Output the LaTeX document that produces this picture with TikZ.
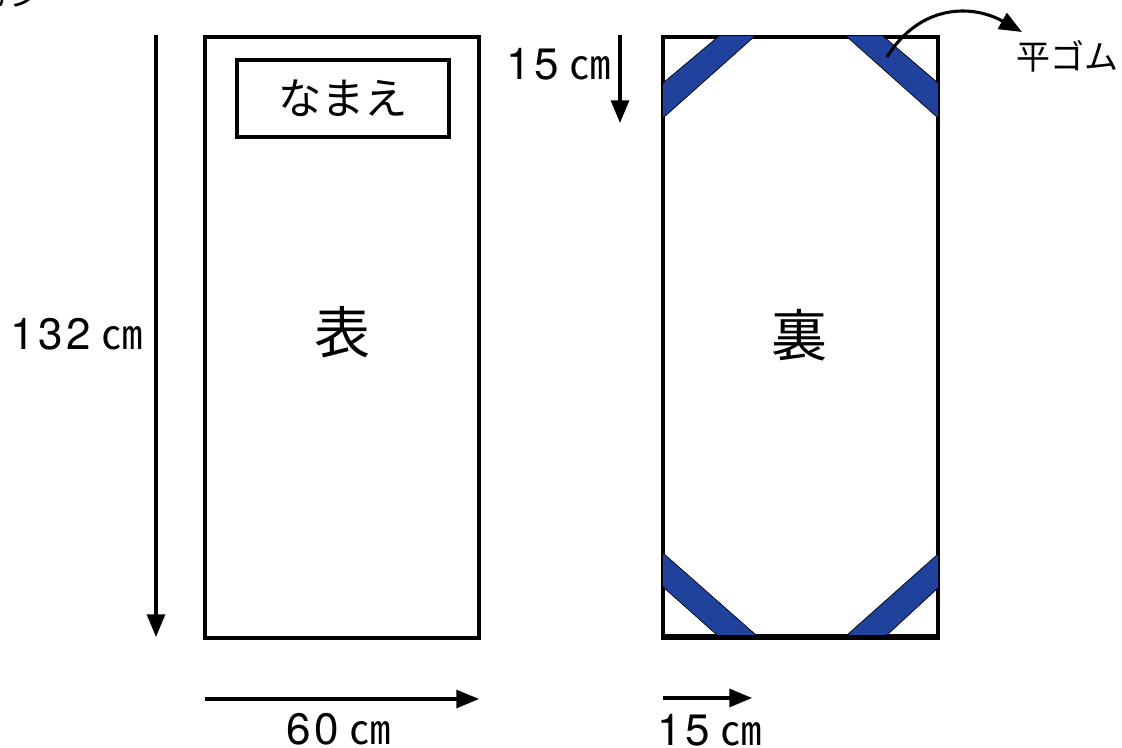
\documentclass[tikz,border=0pt]{standalone}
\usepackage{fontspec}
\usepackage{xcolor}
\usetikzlibrary{arrows.meta}
\setmainfont{Noto Sans CJK JP}
\newfontfamily\numfont[LetterSpace=8]{TeX Gyre Heros}
\definecolor{gumblue}{RGB}{32,66,156}
\newcommand\lbl[1]{\fontsize{#1}{#1}\selectfont}
\newcommand\cmlen[1]{\lbl{33pt}{\numfont #1}\kern8pt\lbl{31pt}㎝}
\tikzstyle{sheet}=[draw,line width=2.3pt]
\tikzstyle{gum}=[fill=gumblue]
\tikzstyle{gumedge}=[line width=.5pt]
\tikzstyle{dimhead}=[>/.tip={Triangle[length=17pt,width=13.5pt]}]
\tikzstyle{dim}=[line width=2.3pt,dimhead,->]
\tikzstyle{jplabel}=[inner sep=0pt,anchor=center]
\tikzstyle{dimlabel}=[inner sep=0pt,anchor=base,text height=23pt,text depth=0pt]
\begin{document}
\begin{tikzpicture}[x=.75pt,y=-.75pt]
	\useasboundingbox (0,0) rectangle (1122,748);
	% sheets
	\node[sheet,minimum width=205.5pt,minimum height=450.75pt,inner sep=0pt] (front) at (342,337.5) {};
	\node[sheet,minimum width=159pt,minimum height=57.75pt,inner sep=0pt] (namebox) at (343,98.5) {\lbl{32.5pt}なまえ};
	\node[sheet,minimum width=206.25pt,minimum height=449.25pt,inner sep=0pt] (back) at (800.5,336.5) {};
	\draw[line width=3.2pt] (back.south west) -- (back.south east);
	% rubber bands
	\fill[gum] (719,36) -- (755,36) -- (663,118) -- (663,83) -- cycle;
	\fill[gum] (846,36) -- (883,36) -- (938,83) -- (938,118) -- cycle;
	\fill[gum] (663,553) -- (756,635) -- (717,635) -- (663,587) -- cycle;
	\fill[gum] (938,554) -- (847,635) -- (887,635) -- (938,588) -- cycle;
	\draw[gumedge] (719,36) -- (663,83) (755,36) -- (663,118);
	\draw[gumedge] (846,36) -- (938,118) (883,36) -- (938,83);
	\draw[gumedge] (663,553) -- (756,635) (663,587) -- (717,635);
	\draw[gumedge] (938,554) -- (847,635) (938,588) -- (887,635);
	% labels
	\node[jplabel] (omote) at (342,332) {\lbl{42pt}表};
	\node[jplabel] (ura) at (799,335) {\lbl{42pt}裏};
	\node[jplabel] (gumlabel) at (1067,56) {\lbl{25.5pt}平ゴム};
	\node[dimlabel] (tall) at (77,350) {\cmlen{132}};
	\node[dimlabel] (corner) at (559,80) {\cmlen{15}};
	\node[dimlabel] (wide) at (339,744) {\cmlen{60}};
	\node[dimlabel] (cornerb) at (710,745) {\cmlen{15}};
	\node[jplabel,anchor=south east] (cut) at (42,8) {\lbl{24pt}カン};
	% dimension arrows
	\coordinate (ta) at (156,35);
	\coordinate (tb) at (156,637);
	\coordinate (ca) at (620,35);
	\coordinate (cb) at (620,123);
	\coordinate (wa) at (205,699);
	\coordinate (wb) at (479,699);
	\coordinate (da) at (663,698);
	\coordinate (db) at (752,698);
	\coordinate (ga) at (887,57);
	\coordinate (gb) at (1022,32);
	\draw[dim] (ta) -- (tb);
	\draw[dim] (ca) -- (cb);
	\draw[dim] (wa) -- (wb);
	\draw[dim] (da) -- (db);
	\draw[dim] (ga) .. controls (920,4) and (972,4) .. (gb);
\end{tikzpicture}
\end{document}
